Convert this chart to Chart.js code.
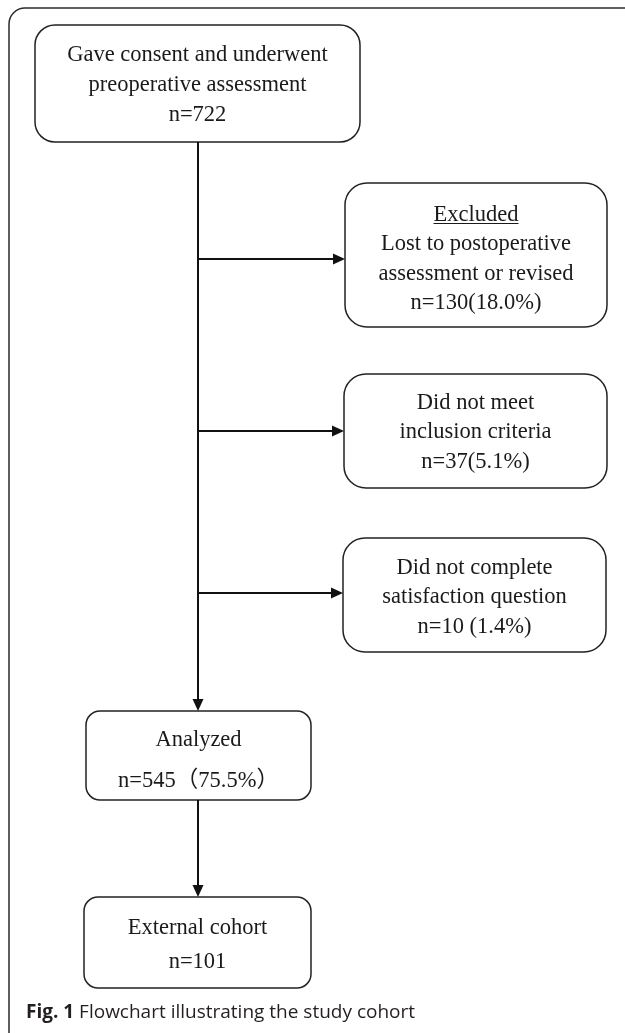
<!DOCTYPE html>
<html lang="en">
<head>
<meta charset="UTF-8">
<title>Study cohort flowchart</title>
<script src="https://cdn.jsdelivr.net/npm/chart.js@4.4.1/dist/chart.umd.min.js"></script>
<style>
    body { margin: 0; background: #fff; }
    #wrap { width: 625px; height: 1033px; position: relative; }
</style>
</head>
<body>

<div id="wrap"><canvas id="flowChart"></canvas></div>

<script>
    // main path boxes: text, counts, percents
    var stageLines = [
        ["Gave consent and underwent", "preoperative assessment"],
        ["Analyzed"],
        ["External cohort"]
    ];
    var stageCounts = [722, 545, 101];
    var stagePercents = [null, 75.5, null];
    // side boxes (excluded)
    var excludedLines = [
        ["Excluded", "Lost to postoperative", "assessment or revised"],
        ["Did not meet", "inclusion criteria"],
        ["Did not complete", "satisfaction question"]
    ];
    var excludedCounts = [130, 37, 10];
    var excludedPercents = [18.0, 5.1, 1.4];
    var captionBold = "Fig. 1";
    var captionText = "Flowchart illustrating the study cohort";

    // layout, in scale units (scale is 0..625 x 0..1033)
    var stageBoxes = [
        { x0: 35, x1: 360, y0: 25, y1: 142, r: 20, first: 55, gap: 30, open: "(", close: ")" },
        { x0: 86, x1: 311, y0: 711, y1: 800, r: 14, first: 740, gap: 41, open: "\uFF08", close: "\uFF09" },
        { x0: 84, x1: 311, y0: 897, y1: 988, r: 14, first: 928, gap: 34, open: "(", close: ")" }
    ];
    var excludedBoxes = [
        { x0: 345, x1: 607, y0: 183, y1: 327, r: 22, first: 215, gap: 29.5, open: "(", close: ")", arrowY: 259 },
        { x0: 344, x1: 607, y0: 374, y1: 488, r: 22, first: 403, gap: 29.5, open: "(", close: ")", arrowY: 431 },
        { x0: 343, x1: 606, y0: 538, y1: 652, r: 22, first: 568, gap: 29.5, open: " (", close: ")", arrowY: 593 }
    ];
    var spineX = 198;

    function countLabel(n, pct, box) {
        if (pct === null) return "n=" + n;
        return "n=" + n + box.open + pct.toFixed(1) + "%" + box.close;
    }

    function roundRect(ctx, x0, y0, x1, y1, r) {
        ctx.beginPath();
        ctx.moveTo(x0 + r, y0);
        ctx.arcTo(x1, y0, x1, y1, r);
        ctx.arcTo(x1, y1, x0, y1, r);
        ctx.arcTo(x0, y1, x0, y0, r);
        ctx.arcTo(x0, y0, x1, y0, r);
        ctx.closePath();
    }

    function arrow(ctx, ax, ay, bx, by) {
        var ang = Math.atan2(by - ay, bx - ax), len = 12, hw = 5.5;
        ctx.beginPath();
        ctx.moveTo(ax, ay);
        ctx.lineTo(bx - Math.cos(ang) * len, by - Math.sin(ang) * len);
        ctx.stroke();
        ctx.beginPath();
        ctx.moveTo(bx, by);
        ctx.lineTo(bx - Math.cos(ang) * len - Math.sin(ang) * hw, by - Math.sin(ang) * len + Math.cos(ang) * hw);
        ctx.lineTo(bx - Math.cos(ang) * len + Math.sin(ang) * hw, by - Math.sin(ang) * len - Math.cos(ang) * hw);
        ctx.closePath();
        ctx.fill();
    }

    var flowPlugin = {
        id: "flowPlugin",
        afterDraw: function(chart) {
            var ctx = chart.ctx;
            var sx = chart.scales.x, sy = chart.scales.y;
            var X = function(v) { return sx.getPixelForValue(v); };
            var Y = function(v) { return sy.getPixelForValue(v); };
            ctx.save();

            // outer frame (open to the right / bottom, like the cropped figure)
            ctx.strokeStyle = "#2b2b2b";
            ctx.lineWidth = 1.5;
            roundRect(ctx, X(9), Y(8), X(660), Y(1050), 16);
            ctx.stroke();

            // boxes + text
            function drawBox(box, lines, label, underlineFirst) {
                ctx.strokeStyle = "#222";
                ctx.lineWidth = 1.5;
                roundRect(ctx, X(box.x0), Y(box.y0), X(box.x1), Y(box.y1), box.r);
                ctx.stroke();
                ctx.fillStyle = "#1a1a1a";
                ctx.font = "22.5px 'Liberation Serif', 'Noto Sans CJK SC', serif";
                ctx.textAlign = "center";
                ctx.textBaseline = "middle";
                var cx = X((box.x0 + box.x1) / 2);
                var all = lines.concat([label]);
                all.forEach(function(t, i) {
                    var ty = Y(box.first + i * box.gap);
                    ctx.fillText(t, cx, ty);
                    if (underlineFirst && i === 0) {
                        var w = ctx.measureText(t).width;
                        ctx.lineWidth = 1.2;
                        ctx.strokeStyle = "#1a1a1a";
                        ctx.beginPath();
                        ctx.moveTo(cx - w / 2, ty + 8.5);
                        ctx.lineTo(cx + w / 2, ty + 8.5);
                        ctx.stroke();
                    }
                });
            }
            stageBoxes.forEach(function(b, i) {
                drawBox(b, stageLines[i], countLabel(stageCounts[i], stagePercents[i], b), false);
            });
            excludedBoxes.forEach(function(b, i) {
                drawBox(b, excludedLines[i], countLabel(excludedCounts[i], excludedPercents[i], b), i === 0);
            });

            // connectors
            ctx.strokeStyle = "#111";
            ctx.fillStyle = "#111";
            ctx.lineWidth = 2;
            arrow(ctx, X(spineX), Y(stageBoxes[0].y1), X(spineX), Y(stageBoxes[1].y0));
            excludedBoxes.forEach(function(b) {
                arrow(ctx, X(spineX), Y(b.arrowY), X(b.x0), Y(b.arrowY));
            });
            arrow(ctx, X(spineX), Y(stageBoxes[1].y1), X(spineX), Y(stageBoxes[2].y0));

            // caption
            ctx.textAlign = "left";
            ctx.textBaseline = "middle";
            ctx.fillStyle = "#231f20";
            ctx.font = "bold 19px 'Open Sans', sans-serif";
            ctx.fillText(captionBold, X(26), Y(1013));
            var bw = ctx.measureText(captionBold + " ").width;
            ctx.font = "19px 'Open Sans', sans-serif";
            ctx.fillText(captionText, X(26) + bw, Y(1013));
            ctx.restore();
        }
    };

    var flowChart = new Chart("flowChart", {
        type: "scatter",
        data: { datasets: [] },
        options: {
            responsive: true,
            maintainAspectRatio: false,
            animation: false,
            layout: { padding: 0 },
            scales: {
                x: { type: "linear", min: 0, max: 625, display: false },
                y: { type: "linear", min: 0, max: 1033, reverse: true, display: false }
            },
            plugins: {
                legend: { display: false },
                tooltip: { enabled: false }
            }
        },
        plugins: [flowPlugin]
    });
</script>

</body>
</html>
